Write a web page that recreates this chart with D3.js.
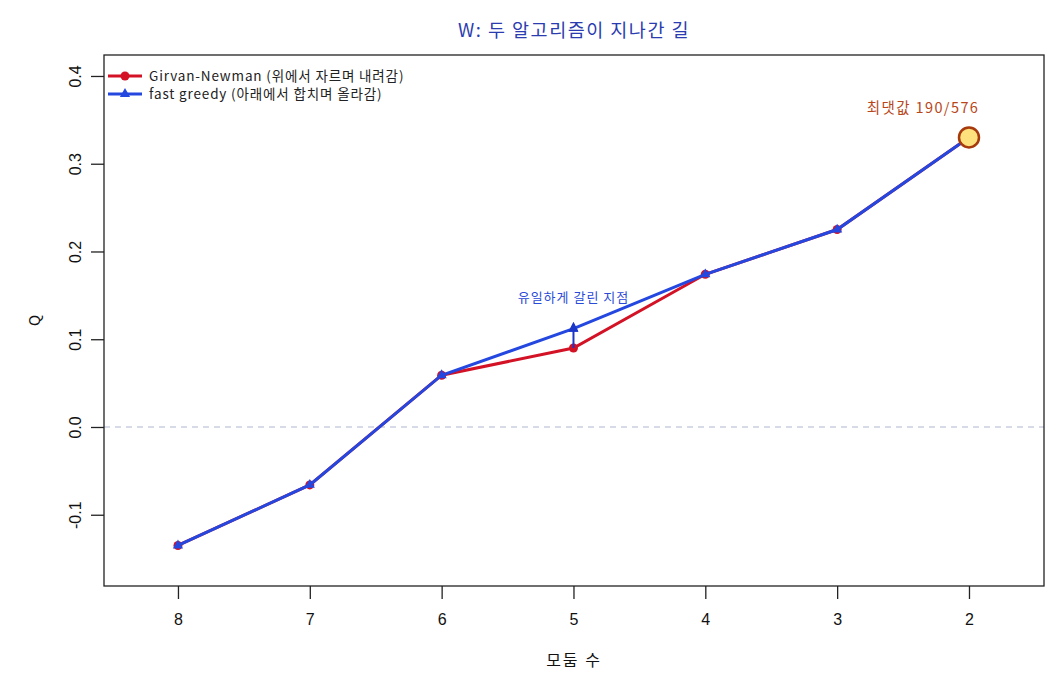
<!DOCTYPE html>
<html>
<head>
<meta charset="utf-8">
<script src="https://cdn.jsdelivr.net/npm/d3@7"></script>
<style>
  body { margin: 0; background: #fff; }
  svg { font-family: "Noto Sans CJK KR", "Noto Sans", sans-serif; }
</style>
</head>
<body>
<svg width="1060" height="680"></svg>
<script>
// 데이터
const modules = [8, 7, 6, 5, 4, 3, 2]
const gnQ = [-0.135, -0.066, 0.059, 0.090, 0.174, 0.225, 0.330]
const fgQ = [-0.135, -0.066, 0.059, 0.112, 0.174, 0.225, 0.330]
const yTicks = [-0.1, 0.0, 0.1, 0.2, 0.3, 0.4]
const seriesNames = ["Girvan-Newman (위에서 자르며 내려감)", "fast greedy (아래에서 합치며 올라감)"]
const maxLabel = "최댓값 190/576"
const splitLabel = "유일하게 갈린 지점"

const red = "#d31226"
const blue = "#2447e0"

const svg = d3.select("svg")
const pLeft = 104, pRight = 1044, pTop = 55, pBottom = 586

const x = d3.scaleLinear().domain([8.561, 1.431]).range([pLeft, pRight])
const y = d3.scaleLinear().domain([0.4239, -0.1812]).range([pTop, pBottom])

// 0 기준선
svg.append("line")
    .attr("x1", pLeft).attr("x2", pRight)
    .attr("y1", y(0)).attr("y2", y(0))
    .attr("stroke", "#c9d0e0").attr("stroke-width", 1.3)
    .attr("stroke-dasharray", "6,5")

// 축
const xAxis = svg.append("g")
    .attr("transform", `translate(0,${pBottom})`)
    .call(d3.axisBottom(x).tickValues(modules).tickFormat(d3.format("d")).tickSize(13).tickPadding(15))
xAxis.select(".domain").remove()
xAxis.selectAll("text").attr("font-size", 16).attr("fill", "#111")
xAxis.selectAll("line").attr("stroke", "#222").attr("stroke-width", 1.3)

const fmt = d3.format(".1f")
const yAxis = svg.append("g")
    .call(d3.axisLeft(y).tickValues(yTicks).tickFormat(d => fmt(d).replace("−", "-")).tickSize(13))
    .attr("transform", `translate(${pLeft},0)`)
yAxis.select(".domain").remove()
yAxis.selectAll("line").attr("stroke", "#222").attr("stroke-width", 1.3)
yAxis.selectAll(".tick text")
    .attr("font-size", 16).attr("fill", "#111")
    .attr("text-anchor", "middle")
    .attr("x", null).attr("dy", null)
    .attr("transform", "translate(-29,0) rotate(-90)")
    .attr("dy", "0.35em")

svg.append("rect")
    .attr("x", pLeft).attr("y", pTop)
    .attr("width", pRight - pLeft).attr("height", pBottom - pTop)
    .attr("fill", "none").attr("stroke", "#222").attr("stroke-width", 1.3)

// 선
const line = d3.line().x(d => x(d[0])).y(d => y(d[1]))
const gnData = modules.map((m, i) => [m, gnQ[i]])
const fgData = modules.map((m, i) => [m, fgQ[i]])

svg.append("path").datum(gnData).attr("d", line)
    .attr("fill", "none").attr("stroke", red).attr("stroke-width", 3)
svg.selectAll(".gn").data(gnData).enter().append("circle")
    .attr("cx", d => x(d[0])).attr("cy", d => y(d[1])).attr("r", 4.5)
    .attr("fill", red)

svg.append("path").datum(fgData).attr("d", line)
    .attr("fill", "none").attr("stroke", blue).attr("stroke-width", 3)
const tri = d3.symbol().type(d3.symbolTriangle).size(45)
svg.selectAll(".fg").data(fgData).enter().append("path")
    .attr("d", tri)
    .attr("transform", d => `translate(${x(d[0])},${y(d[1])})`)
    .attr("fill", blue)

// 갈린 지점 화살표
svg.append("defs").append("marker")
    .attr("id", "head").attr("viewBox", "0 0 10 10")
    .attr("refX", 5).attr("refY", 5)
    .attr("markerWidth", 5).attr("markerHeight", 5)
    .attr("orient", "auto")
    .append("path").attr("d", "M0,0 L10,5 L0,10 z").attr("fill", "#1c36c8")
svg.append("line")
    .attr("x1", x(5)).attr("x2", x(5))
    .attr("y1", y(gnQ[3])).attr("y2", y(fgQ[3]) - 2)
    .attr("stroke", "#1c36c8").attr("stroke-width", 2)
    .attr("marker-end", "url(#head)")
svg.append("text")
    .attr("x", x(5)).attr("y", y(fgQ[3]) - 27)
    .attr("text-anchor", "middle").attr("font-size", 13)
    .attr("letter-spacing", 1)
    .attr("fill", "#2a4ad8")
    .text(splitLabel)

// 최댓값
svg.append("circle")
    .attr("cx", x(2)).attr("cy", y(gnQ[6])).attr("r", 10)
    .attr("fill", "#fde17c").attr("stroke", "#a63a0c").attr("stroke-width", 2.5)
svg.append("text")
    .attr("x", x(2) - 46).attr("y", y(gnQ[6]) - 24)
    .attr("text-anchor", "middle").attr("font-size", 14.5)
    .attr("letter-spacing", 1.4)
    .attr("fill", "#b9461a")
    .text(maxLabel)

// 범례
const legend = svg.append("g").attr("transform", `translate(${pLeft + 4},${pTop + 21})`)
seriesNames.forEach((name, i) => {
    const g = legend.append("g").attr("transform", `translate(0,${i * 18})`)
    g.append("line").attr("x1", 0).attr("x2", 34)
        .attr("stroke", i === 0 ? red : blue).attr("stroke-width", 3)
    if (i === 0) {
        g.append("circle").attr("cx", 17).attr("r", 4.5).attr("fill", red)
    } else {
        g.append("path").attr("d", tri).attr("transform", "translate(17,0)").attr("fill", blue)
    }
    g.append("text").attr("x", 41).attr("dy", "0.35em")
        .attr("font-size", 13.5).attr("letter-spacing", 0.85)
        .attr("fill", "#222").text(name)
})

// 제목
svg.append("text")
    .attr("x", (pLeft + pRight) / 2).attr("y", 37)
    .attr("text-anchor", "middle").attr("font-size", 18.5)
    .attr("letter-spacing", 1.5)
    .attr("fill", "#2b3cb0")
    .text("W: 두 알고리즘이 지나간 길")

svg.append("text")
    .attr("x", (pLeft + pRight) / 2).attr("y", 666)
    .attr("text-anchor", "middle").attr("font-size", 16)
    .attr("letter-spacing", 2).attr("fill", "#111")
    .text("모둠 수")

svg.append("text")
    .attr("transform", `translate(40,${(pTop + pBottom) / 2}) rotate(-90)`)
    .attr("text-anchor", "middle").attr("font-size", 15).attr("fill", "#111")
    .text("Q")
</script>
</body>
</html>
